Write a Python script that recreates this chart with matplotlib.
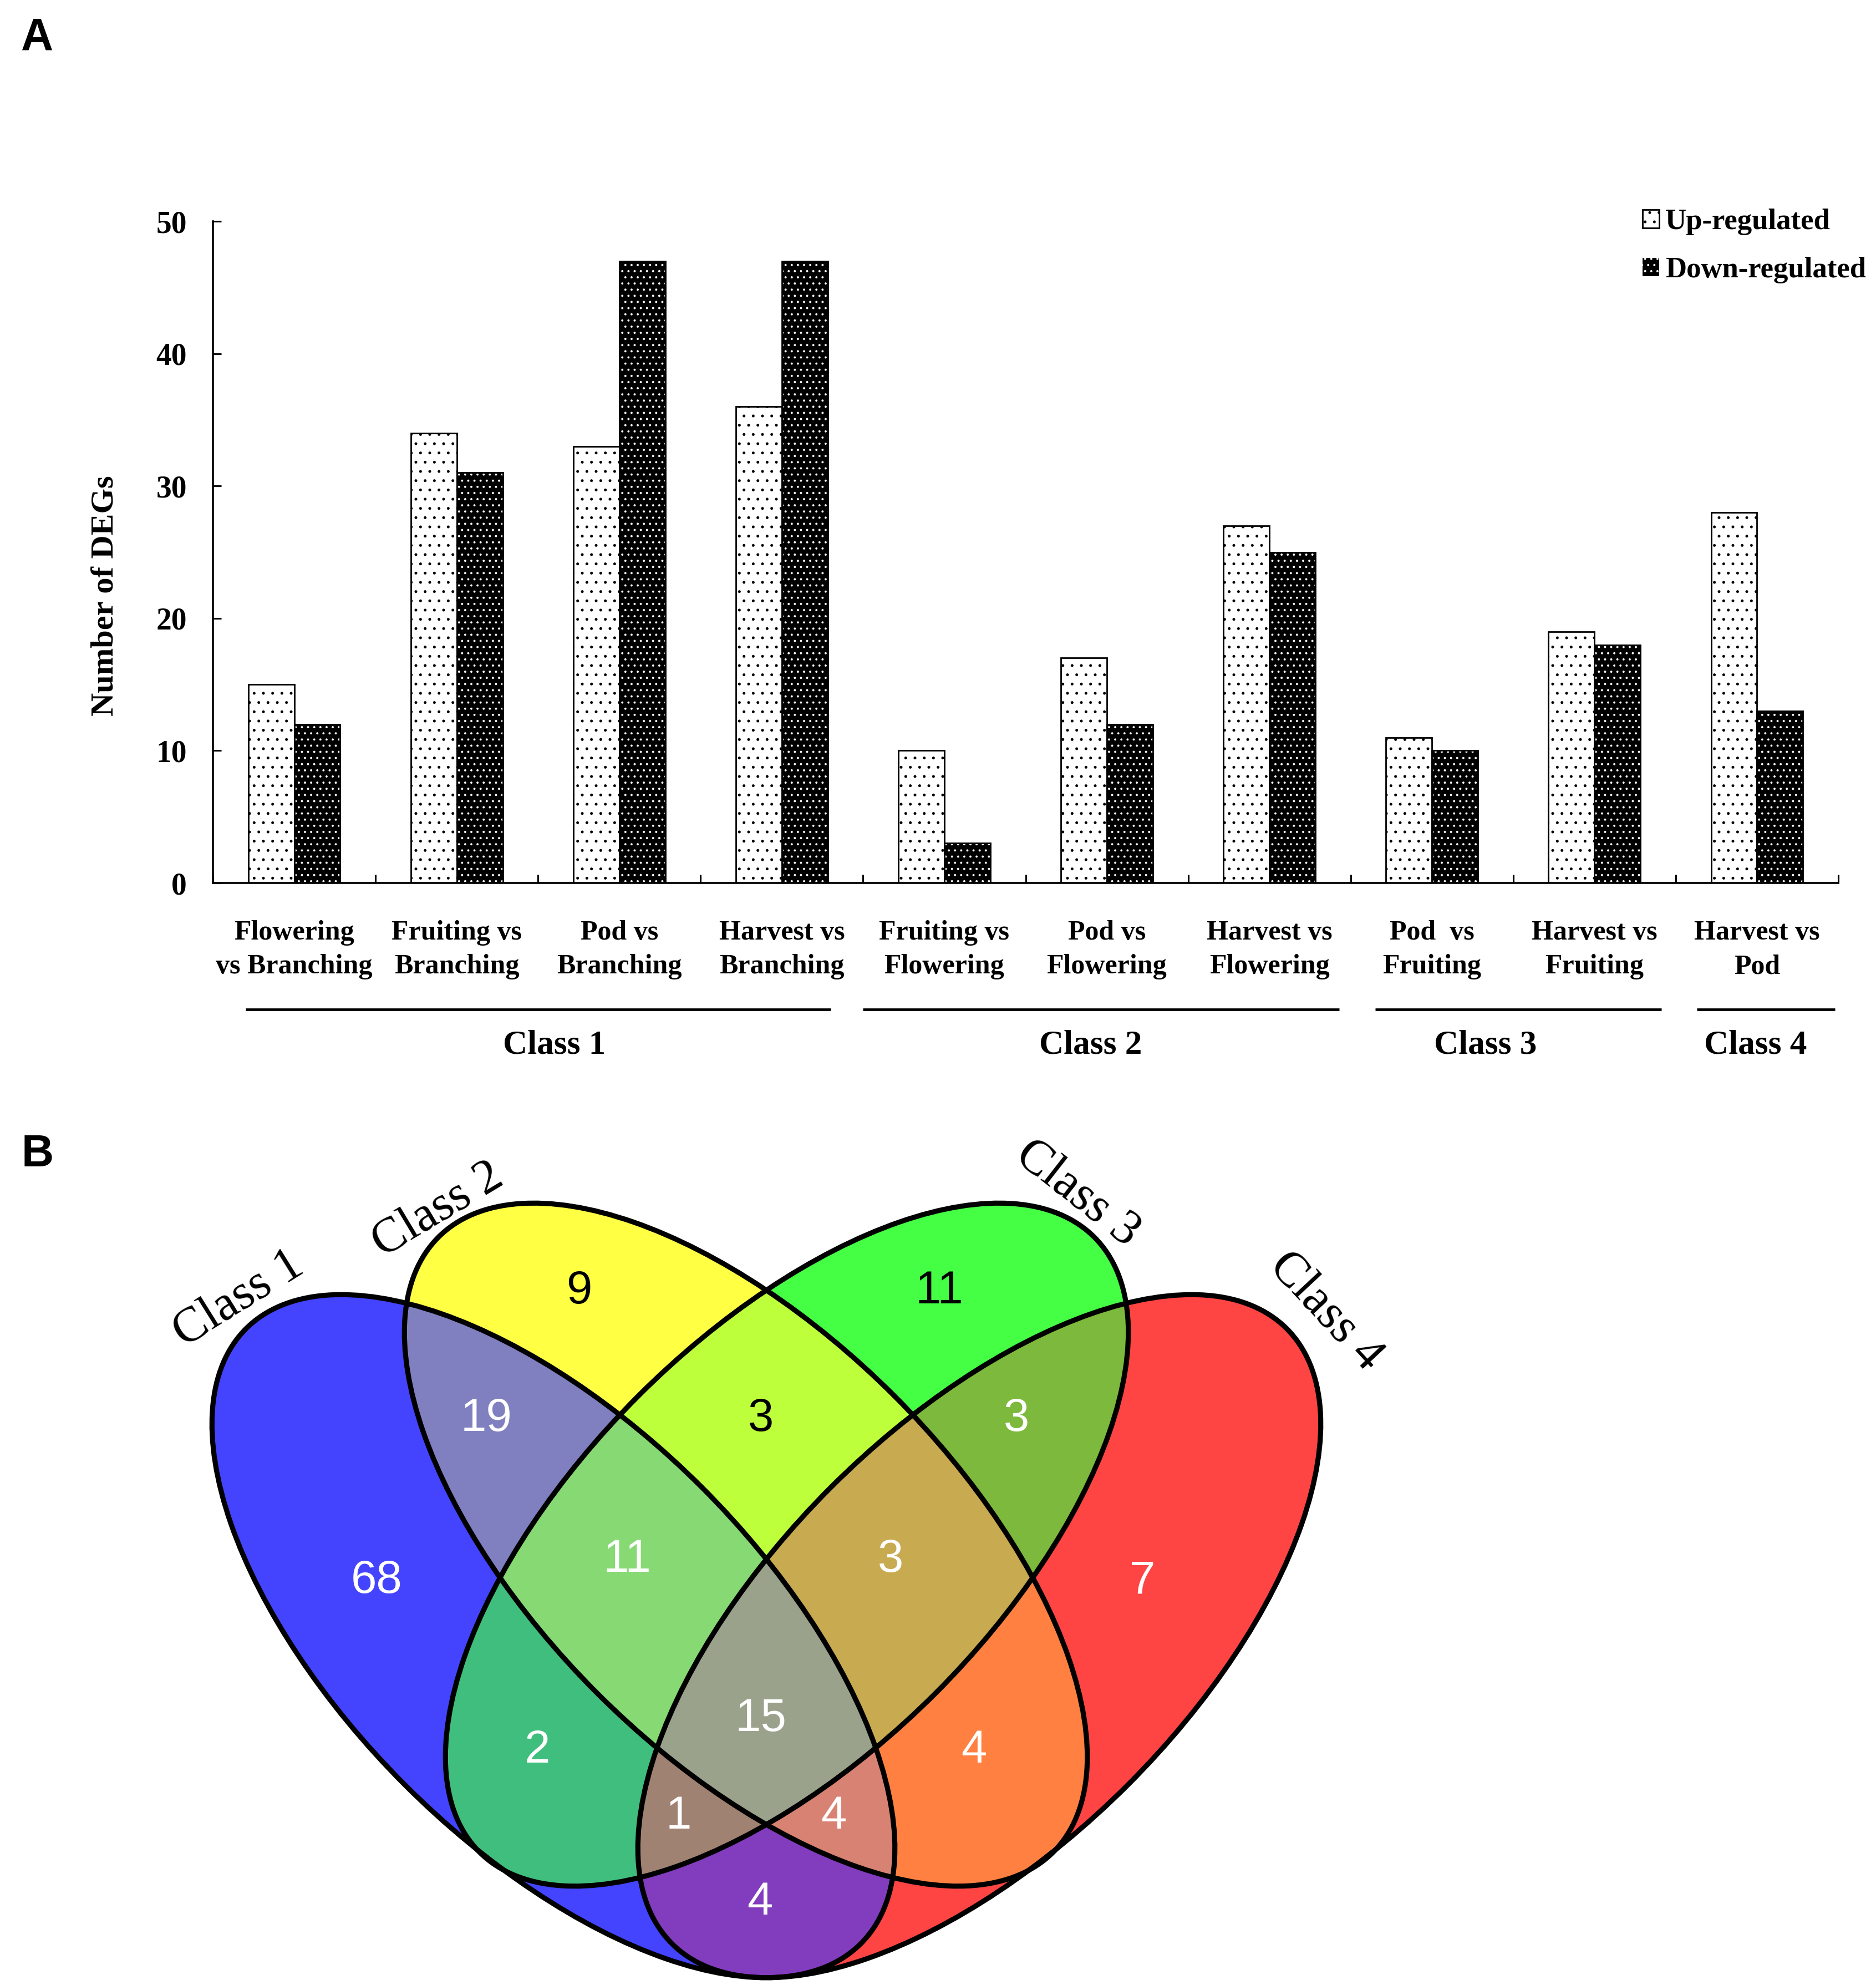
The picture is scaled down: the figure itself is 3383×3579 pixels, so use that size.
import numpy as np
import matplotlib
matplotlib.use("Agg")
import matplotlib.pyplot as plt
from matplotlib.patches import Ellipse, Patch
import matplotlib.transforms as mtransforms

# ---------------- data ----------------
comparisons = ["Flowering\nvs Branching", "Fruiting vs\nBranching", "Pod vs\nBranching",
               "Harvest vs\nBranching", "Fruiting vs\nFlowering", "Pod vs\nFlowering",
               "Harvest vs\nFlowering", "Pod  vs\nFruiting", "Harvest vs\nFruiting",
               "Harvest vs\nPod"]
up_regulated = [15, 34, 33, 36, 10, 17, 27, 11, 19, 28]
down_regulated = [12, 31, 47, 47, 3, 12, 25, 10, 18, 13]
class_names = ["Class 1", "Class 2", "Class 3", "Class 4"]
class_sizes = [4, 3, 2, 1]
y_ticks = [0, 10, 20, 30, 40, 50]
legend_labels = ["Up-regulated", "Down-regulated"]

venn_sets = ["Class 1", "Class 2", "Class 3", "Class 4"]
venn_regions = ["1", "2", "3", "4", "12", "13", "14", "23", "24", "34",
                "123", "124", "134", "234", "1234"]
venn_counts = [68, 9, 11, 7, 19, 2, 4, 3, 4, 3, 11, 4, 1, 3, 15]

# ---------------- style / layout ----------------
W_PX, H_PX, DPI = 3383, 3579, 200
plt.rcParams["font.family"] = ["Liberation Serif", "DejaVu Serif"]
plt.rcParams["hatch.linewidth"] = 0.6

region_colors = {
    "1": "#4444FF", "2": "#FFFF44", "3": "#44FF44", "4": "#FF4444",
    "12": "#8080C0", "13": "#40BE7D", "14": "#823CBE", "23": "#BEFF3C",
    "24": "#FF8040", "34": "#7DB93C", "123": "#87DA73", "124": "#D88273",
    "134": "#A08273", "234": "#C8AA50", "1234": "#9BA28C",
}
dark_text_regions = {"2", "3", "23"}
region_label_pos = {
    "1": (679, 2850), "2": (1044, 2328), "3": (1694, 2328), "4": (2060, 2850),
    "12": (877, 2558), "13": (969, 3156), "14": (1370, 3430), "23": (1372, 2558),
    "24": (1756, 3156), "34": (1833, 2558), "123": (1131, 2812), "124": (1503, 3275),
    "134": (1224, 3275), "234": (1606, 2812), "1234": (1372, 3099),
}
# ellipse geometry in pixel coordinates (y downward)
ELL_A, ELL_B = 784, 379
ellipse_geom = [(998, 2950, 45), (1345, 2785, 45), (1419, 2785, -45), (1766, 2950, -45)]
set_label_geom = [(430, 2342, 32), (789, 2182, 31), (1943, 2152, -38), (2391, 2364, -47)]

# class bracket layout (line trims in category units, label x in data units)
line_trim = [(0.2, 0.2), (0.0, 0.07), (0.15, 0.09), (0.13, 0.02)]
class_label_x = [1.6, 4.9, 7.33, 8.99]

fig = plt.figure(figsize=(W_PX / DPI, H_PX / DPI), dpi=DPI)
fig.patch.set_facecolor("white")

# ---------------- panel A ----------------
ax_left, ax_right, ax_top, ax_bot = 384, 3315, 399, 1592
ax = fig.add_axes([ax_left / W_PX, 1 - ax_bot / H_PX,
                   (ax_right - ax_left) / W_PX, (ax_bot - ax_top) / H_PX])
x = np.arange(len(comparisons))
bw = 0.283
ax.bar(x - bw / 2, up_regulated, bw, color="white", edgecolor="black",
       hatch="..", linewidth=1.0, zorder=2)
with plt.rc_context({"hatch.color": "white"}):
    ax.bar(x + bw / 2, down_regulated, bw, color="black", hatch="...",
           linewidth=0, zorder=2)
ax.bar(x + bw / 2, down_regulated, bw, fill=False, edgecolor="black",
       linewidth=1.0, zorder=3)

ax.set_xlim(-0.5, len(comparisons) - 0.5)
ax.set_ylim(0, 50)
for s in ["top", "right"]:
    ax.spines[s].set_visible(False)
for s in ["left", "bottom"]:
    ax.spines[s].set_linewidth(1.3)
ax.set_yticks(y_ticks)
ax.tick_params(axis="y", direction="in", length=5.5, width=1.1, pad=17, labelsize=20)
for lbl in ax.get_yticklabels():
    lbl.set_fontweight("bold")
ax.set_xticks(x)
ax.set_xticklabels(comparisons, fontsize=18, fontweight="bold", linespacing=1.45)
ax.tick_params(axis="x", which="major", length=0, pad=24)
ax.set_xticks(np.arange(-0.5, len(comparisons) + 0.5, 1), minor=True)
ax.tick_params(axis="x", which="minor", direction="in", length=5.5, width=1.1)

# class bracket lines
trans = mtransforms.blended_transform_factory(ax.transData, ax.transAxes)
start = 0
for name, size, (tl, tr), lx in zip(class_names, class_sizes, line_trim, class_label_x):
    x0 = start - 0.5 + tl
    x1 = start + size - 0.5 - tr
    ax.plot([x0, x1], [-0.191, -0.191], transform=trans, color="black",
            lw=1.7, clip_on=False, solid_capstyle="butt")
    ax.text(lx, -0.258, name, transform=trans, ha="center",
            va="baseline", fontsize=22, fontweight="bold")
    start += size

fig.text(190 / W_PX, 1 - 1074 / H_PX, "Number of DEGs", rotation=90,
         ha="center", va="center", fontsize=21, fontweight="bold")

h_up = Patch(facecolor="white", edgecolor="black", hatch="..", linewidth=1.0)
with plt.rc_context({"hatch.color": "white"}):
    h_down = Patch(facecolor="black", hatch="...")
fig.legend([h_up, h_down], legend_labels, loc="upper left",
           bbox_to_anchor=(2962 / W_PX, 1 - 376 / H_PX), frameon=False,
           borderpad=0, borderaxespad=0, handlelength=0.57, handleheight=0.57,
           handletextpad=0.2, labelspacing=0.74,
           prop={"family": "Liberation Serif", "weight": "bold", "size": 19})

fig.text(38 / W_PX, 1 - 90 / H_PX, "A", fontsize=29, fontweight="bold",
         family="Liberation Sans", va="baseline", ha="left")
fig.text(39 / W_PX, 1 - 2103 / H_PX, "B", fontsize=29, fontweight="bold",
         family="Liberation Sans", va="baseline", ha="left")

# ---------------- panel B (Venn) ----------------
V_TOP = 1980
axv = fig.add_axes([0, 0, 1, (H_PX - V_TOP) / H_PX])
axv.set_xlim(0, W_PX)
axv.set_ylim(H_PX, V_TOP)
axv.axis("off")

xs = np.arange(0, W_PX) + 0.5
ys = np.arange(V_TOP, H_PX) + 0.5
X, Y = np.meshgrid(xs, ys)
code = np.zeros(X.shape, dtype=int)
for i, (cx, cy, ang) in enumerate(ellipse_geom):
    t = np.deg2rad(ang)
    dx, dy = X - cx, Y - cy
    u = np.cos(t) * dx + np.sin(t) * dy
    v = -np.sin(t) * dx + np.cos(t) * dy
    code |= (((u / ELL_A) ** 2 + (v / ELL_B) ** 2) <= 1).astype(int) << i

lut = np.zeros((16, 4))
lut[0] = (1, 1, 1, 0)
for reg in venn_regions:
    idx = sum(1 << (int(c) - 1) for c in reg)
    lut[idx] = matplotlib.colors.to_rgba(region_colors[reg])
img = lut[code]
axv.imshow(img, extent=(0, W_PX, H_PX, V_TOP), origin="upper",
           interpolation="nearest", aspect="auto", zorder=1)

for (cx, cy, ang) in ellipse_geom:
    axv.add_patch(Ellipse((cx, cy), 2 * ELL_A, 2 * ELL_B, angle=ang, fill=False,
                          edgecolor="black", linewidth=3.3, zorder=3))

for reg, cnt in zip(venn_regions, venn_counts):
    px, py = region_label_pos[reg]
    axv.text(px, py, str(cnt), ha="center", va="center", fontsize=30,
             family="Liberation Sans",
             color="black" if reg in dark_text_regions else "white", zorder=4)

for name, (px, py, rot) in zip(venn_sets, set_label_geom):
    axv.text(px, py, name, ha="center", va="center", rotation=rot,
             rotation_mode="anchor", fontsize=32, family="Liberation Serif", zorder=4)

fig.savefig("out.png", dpi=DPI, facecolor="white")
